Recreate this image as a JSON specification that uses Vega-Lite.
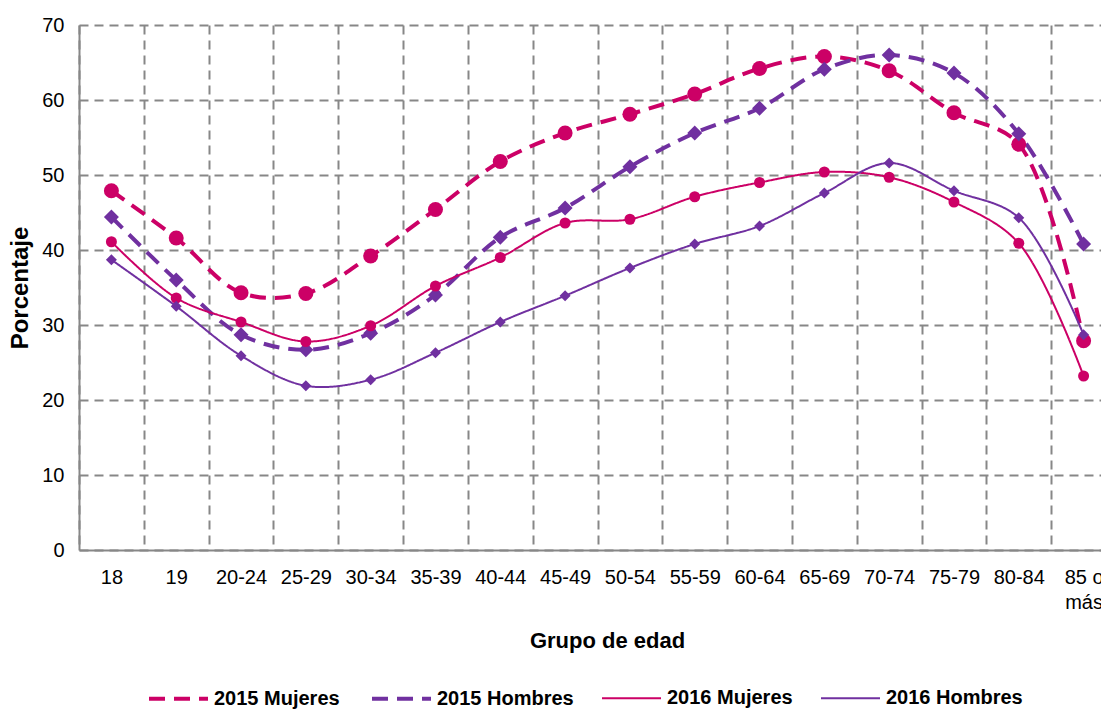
{
  "$schema": "https://vega.github.io/schema/vega-lite/v6.json",
  "autosize": {"type": "none"},
  "padding": {"left": 79, "top": 25, "right": 0, "bottom": 161},
  "width": 1022,
  "height": 525,
  "background": "white",
  "config": {
    "font": "Liberation Sans",
    "view": {"stroke": null},
    "axis": {"labelColor": "#000000", "titleColor": "#000000"}
  },
  "data": {
    "values": [
      {"g": "18", "s": "2015 Mujeres", "v": 47.9},
      {"g": "19", "s": "2015 Mujeres", "v": 41.6},
      {"g": "20-24", "s": "2015 Mujeres", "v": 34.3},
      {"g": "25-29", "s": "2015 Mujeres", "v": 34.2},
      {"g": "30-34", "s": "2015 Mujeres", "v": 39.2},
      {"g": "35-39", "s": "2015 Mujeres", "v": 45.4},
      {"g": "40-44", "s": "2015 Mujeres", "v": 51.8},
      {"g": "45-49", "s": "2015 Mujeres", "v": 55.6},
      {"g": "50-54", "s": "2015 Mujeres", "v": 58.1},
      {"g": "55-59", "s": "2015 Mujeres", "v": 60.8},
      {"g": "60-64", "s": "2015 Mujeres", "v": 64.2},
      {"g": "65-69", "s": "2015 Mujeres", "v": 65.8},
      {"g": "70-74", "s": "2015 Mujeres", "v": 63.9},
      {"g": "75-79", "s": "2015 Mujeres", "v": 58.3},
      {"g": "80-84", "s": "2015 Mujeres", "v": 54.1},
      {"g": "85 o más", "s": "2015 Mujeres", "v": 27.9},
      {"g": "18", "s": "2015 Hombres", "v": 44.4},
      {"g": "19", "s": "2015 Hombres", "v": 36.0},
      {"g": "20-24", "s": "2015 Hombres", "v": 28.7},
      {"g": "25-29", "s": "2015 Hombres", "v": 26.7},
      {"g": "30-34", "s": "2015 Hombres", "v": 28.9},
      {"g": "35-39", "s": "2015 Hombres", "v": 34.0},
      {"g": "40-44", "s": "2015 Hombres", "v": 41.7},
      {"g": "45-49", "s": "2015 Hombres", "v": 45.6},
      {"g": "50-54", "s": "2015 Hombres", "v": 51.1},
      {"g": "55-59", "s": "2015 Hombres", "v": 55.6},
      {"g": "60-64", "s": "2015 Hombres", "v": 58.9},
      {"g": "65-69", "s": "2015 Hombres", "v": 64.1},
      {"g": "70-74", "s": "2015 Hombres", "v": 66.0},
      {"g": "75-79", "s": "2015 Hombres", "v": 63.6},
      {"g": "80-84", "s": "2015 Hombres", "v": 55.5},
      {"g": "85 o más", "s": "2015 Hombres", "v": 40.8},
      {"g": "18", "s": "2016 Mujeres", "v": 41.1},
      {"g": "19", "s": "2016 Mujeres", "v": 33.6},
      {"g": "20-24", "s": "2016 Mujeres", "v": 30.4},
      {"g": "25-29", "s": "2016 Mujeres", "v": 27.8},
      {"g": "30-34", "s": "2016 Mujeres", "v": 29.9},
      {"g": "35-39", "s": "2016 Mujeres", "v": 35.2},
      {"g": "40-44", "s": "2016 Mujeres", "v": 39.0},
      {"g": "45-49", "s": "2016 Mujeres", "v": 43.6},
      {"g": "50-54", "s": "2016 Mujeres", "v": 44.1},
      {"g": "55-59", "s": "2016 Mujeres", "v": 47.1},
      {"g": "60-64", "s": "2016 Mujeres", "v": 49.0},
      {"g": "65-69", "s": "2016 Mujeres", "v": 50.4},
      {"g": "70-74", "s": "2016 Mujeres", "v": 49.7},
      {"g": "75-79", "s": "2016 Mujeres", "v": 46.4},
      {"g": "80-84", "s": "2016 Mujeres", "v": 40.9},
      {"g": "85 o más", "s": "2016 Mujeres", "v": 23.2},
      {"g": "18", "s": "2016 Hombres", "v": 38.7},
      {"g": "19", "s": "2016 Hombres", "v": 32.5},
      {"g": "20-24", "s": "2016 Hombres", "v": 25.9},
      {"g": "25-29", "s": "2016 Hombres", "v": 21.9},
      {"g": "30-34", "s": "2016 Hombres", "v": 22.7},
      {"g": "35-39", "s": "2016 Hombres", "v": 26.3},
      {"g": "40-44", "s": "2016 Hombres", "v": 30.4},
      {"g": "45-49", "s": "2016 Hombres", "v": 33.9},
      {"g": "50-54", "s": "2016 Hombres", "v": 37.6},
      {"g": "55-59", "s": "2016 Hombres", "v": 40.8},
      {"g": "60-64", "s": "2016 Hombres", "v": 43.2},
      {"g": "65-69", "s": "2016 Hombres", "v": 47.6},
      {"g": "70-74", "s": "2016 Hombres", "v": 51.6},
      {"g": "75-79", "s": "2016 Hombres", "v": 47.9},
      {"g": "80-84", "s": "2016 Hombres", "v": 44.3},
      {"g": "85 o más", "s": "2016 Hombres", "v": 28.7}
    ]
  },
  "encoding": {
    "x": {
      "field": "g",
      "type": "ordinal",
      "scale": {
        "type": "band",
        "domain": ["18", "19", "20-24", "25-29", "30-34", "35-39", "40-44", "45-49", "50-54", "55-59", "60-64", "65-69", "70-74", "75-79", "80-84", "85 o más"],
        "range": [0, 1037],
        "paddingInner": 0,
        "paddingOuter": 0
      },
      "axis": {
        "title": "Grupo de edad",
        "tickBand": "extent",
        "grid": true,
        "gridDash": [9, 6],
        "gridColor": "#878787",
        "gridWidth": 2,
        "ticks": false,
        "labelAngle": 0,
        "labelPadding": 17,
        "labelFontSize": 20,
        "labelLineHeight": 25,
        "labelOverlap": false,
        "labelExpr": "datum.value == '85 o más' ? ['85 o', 'más'] : datum.label",
        "domainColor": "#878787",
        "domainWidth": 2,
        "titleFontSize": 22,
        "titleFontWeight": "bold",
        "titleX": 528,
        "titleY": 97,
        "titleBaseline": "alphabetic"
      }
    },
    "y": {
      "field": "v",
      "type": "quantitative",
      "scale": {"domain": [0, 70], "nice": false},
      "axis": {
        "title": "Porcentaje",
        "values": [0, 10, 20, 30, 40, 50, 60, 70],
        "grid": true,
        "gridDash": [9, 6],
        "gridColor": "#878787",
        "gridWidth": 2,
        "ticks": false,
        "labelPadding": 15,
        "labelFontSize": 20,
        "domainColor": "#878787",
        "domainWidth": 2,
        "titleFontSize": 24,
        "titleFontWeight": "bold",
        "titlePadding": 9
      }
    }
  },
  "layer": [
    {
      "mark": {"type": "line", "interpolate": "catmull-rom"},
      "encoding": {
        "color": {
          "field": "s",
          "type": "nominal",
          "scale": {
            "domain": ["2015 Mujeres", "2015 Hombres", "2016 Mujeres", "2016 Hombres"],
            "range": ["#CC0066", "#7030A0", "#CC0066", "#7030A0"]
          },
          "legend": {
            "title": null,
            "orient": "none",
            "legendX": 68,
            "legendY": 642,
            "direction": "horizontal",
            "columns": 4,
            "columnPadding": 24,
            "labelOffset": 4,
            "labelFontSize": 20,
            "labelFontWeight": "bold",
            "labelColor": "#000000",
            "symbolSize": 3481,
            "symbolType": "stroke"
          }
        },
        "strokeDash": {
          "field": "s",
          "type": "nominal",
          "scale": {
            "domain": ["2015 Mujeres", "2015 Hombres", "2016 Mujeres", "2016 Hombres"],
            "range": [[16, 9], [16, 9], [1, 0], [1, 0]]
          },
          "legend": {
            "title": null,
            "orient": "none",
            "legendX": 68,
            "legendY": 642,
            "direction": "horizontal",
            "columns": 4,
            "columnPadding": 24,
            "labelOffset": 4,
            "labelFontSize": 20,
            "labelFontWeight": "bold",
            "labelColor": "#000000",
            "symbolSize": 3481,
            "symbolType": "stroke"
          }
        },
        "strokeWidth": {
          "field": "s",
          "type": "ordinal",
          "scale": {
            "type": "ordinal",
            "domain": ["2015 Mujeres", "2015 Hombres", "2016 Mujeres", "2016 Hombres"],
            "range": [4, 4, 2, 2]
          },
          "legend": {
            "title": null,
            "orient": "none",
            "legendX": 68,
            "legendY": 642,
            "direction": "horizontal",
            "columns": 4,
            "columnPadding": 24,
            "labelOffset": 4,
            "labelFontSize": 20,
            "labelFontWeight": "bold",
            "labelColor": "#000000",
            "symbolSize": 3481,
            "symbolType": "stroke"
          }
        }
      }
    },
    {
      "transform": [{"filter": "datum.s === '2015 Mujeres'"}],
      "mark": {"type": "point", "filled": true, "opacity": 1, "size": 225, "shape": "circle"},
      "encoding": {"color": {"field": "s", "type": "nominal", "legend": null}}
    },
    {
      "transform": [{"filter": "datum.s === '2015 Hombres'"}],
      "mark": {"type": "point", "filled": true, "opacity": 1, "size": 225, "shape": "diamond"},
      "encoding": {"color": {"field": "s", "type": "nominal", "legend": null}}
    },
    {
      "transform": [{"filter": "datum.s === '2016 Mujeres'"}],
      "mark": {"type": "point", "filled": true, "opacity": 1, "size": 121, "shape": "circle"},
      "encoding": {"color": {"field": "s", "type": "nominal", "legend": null}}
    },
    {
      "transform": [{"filter": "datum.s === '2016 Hombres'"}],
      "mark": {"type": "point", "filled": true, "opacity": 1, "size": 121, "shape": "diamond"},
      "encoding": {"color": {"field": "s", "type": "nominal", "legend": null}}
    }
  ]
}
